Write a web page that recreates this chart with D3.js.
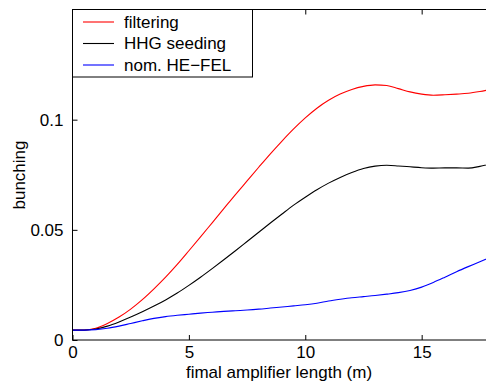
<!DOCTYPE html>
<html>
<head>
<meta charset="utf-8">
<script src="https://cdn.jsdelivr.net/npm/d3@7"></script>
<style>
  body { margin: 0; background: #fff; }
  svg { display: block; }
  text { font-family: "Liberation Sans", Arial, Helvetica, sans-serif; }
</style>
</head>
<body>
<svg id="chart" width="486" height="387"></svg>
<script>
// amplifier length (m)
const lengths = [0, 0.5, 1, 1.5, 2, 2.5, 3, 3.5, 4, 4.5, 5, 5.5, 6, 6.5, 7, 7.5, 8, 8.5, 9,
  9.5, 10, 10.5, 11, 11.5, 12, 12.5, 13, 13.5, 14, 14.5, 15, 15.5, 16, 16.5, 17, 17.5, 18];

const filtering = [0.0045, 0.0045, 0.0053, 0.0075, 0.0104, 0.014, 0.0183, 0.0232, 0.0285, 0.0343,
  0.0405, 0.0468, 0.0532, 0.0596, 0.0660, 0.0722, 0.0784, 0.0845, 0.0903, 0.0958, 0.1008, 0.1052,
  0.1088, 0.1116, 0.1137, 0.1151, 0.1158, 0.1155, 0.1141, 0.1126, 0.1116, 0.1111, 0.1113, 0.1116,
  0.1120, 0.1128, 0.1138];

const hhgSeeding = [0.0045, 0.0045, 0.0050, 0.0063, 0.0082, 0.0104, 0.0128, 0.0154, 0.0182, 0.0213,
  0.0248, 0.0285, 0.0324, 0.0364, 0.0405, 0.0447, 0.0489, 0.0531, 0.0572, 0.0612, 0.0648, 0.0682,
  0.0712, 0.0738, 0.0760, 0.0778, 0.0789, 0.0793, 0.0790, 0.0786, 0.0782, 0.0780, 0.0781, 0.0781,
  0.0780, 0.0788, 0.0800];

const nominal = [0.0045, 0.0045, 0.0047, 0.0053, 0.0063, 0.0075, 0.0087, 0.0098, 0.0106, 0.0112,
  0.0117, 0.0122, 0.0126, 0.0130, 0.0133, 0.0136, 0.0140, 0.0145, 0.0150, 0.0155, 0.0160, 0.0167,
  0.0177, 0.0185, 0.0192, 0.0197, 0.0202, 0.0208, 0.0215, 0.0225, 0.0240, 0.0261, 0.0285, 0.0310,
  0.0333, 0.0355, 0.0378];

const seriesNames = ["filtering", "HHG seeding", "nom. HE\u2212FEL"];
const seriesColors = ["#ff0000", "#000000", "#0000ff"];
const xTicks = [0, 5, 10, 15];
const yTicks = [0, 0.05, 0.1];

const svg = d3.select("#chart");
const mLeft = 72.5, mTop = 9.5, mBottom = 340, mRight = 491.5;

const x = d3.scaleLinear().domain([0, 18]).range([mLeft, mRight]);
const y = d3.scaleLinear().domain([0, 0.15]).range([mBottom, mTop]);

const all = [filtering, hhgSeeding, nominal];

const line = d3.line()
  .x((d, i) => x(lengths[i]))
  .y(d => y(d))
  .curve(d3.curveMonotoneX);

svg.append("clipPath").attr("id", "clip")
  .append("rect").attr("x", mLeft).attr("y", mTop).attr("width", mRight - mLeft).attr("height", mBottom - mTop);

svg.append("g").attr("clip-path", "url(#clip)")
  .selectAll("path")
  .data(all)
  .join("path")
  .attr("fill", "none")
  .attr("stroke", (d, i) => seriesColors[i])
  .attr("stroke-width", 1.1)
  .attr("d", line);

// axes box
const axisColor = "#000";
svg.append("rect")
  .attr("x", mLeft).attr("y", mTop)
  .attr("width", mRight - mLeft).attr("height", mBottom - mTop)
  .attr("fill", "none").attr("stroke", axisColor).attr("stroke-width", 1);

const xAxis = svg.append("g").attr("transform", `translate(0,${mBottom})`)
  .call(d3.axisBottom(x).tickValues(xTicks).tickFormat(d3.format("d")).tickSizeInner(-5).tickSizeOuter(0).tickPadding(6));
const xTop = svg.append("g").attr("transform", `translate(0,${mTop})`)
  .call(d3.axisTop(x).tickValues(xTicks).tickFormat("").tickSizeInner(-5).tickSizeOuter(0));
const yAxis = svg.append("g").attr("transform", `translate(${mLeft},0)`)
  .call(d3.axisLeft(y).tickValues(yTicks).tickFormat(d => d === 0 ? "0" : String(d)).tickSizeInner(-5).tickSizeOuter(0).tickPadding(9));

[xAxis, xTop, yAxis].forEach(g => {
  g.select(".domain").remove();
  g.selectAll("line").attr("stroke", axisColor);
  g.selectAll("text").attr("fill", "#000").style("font-size", "17px")
    .style("font-family", "'Liberation Sans', Arial, sans-serif");
});

svg.append("text")
  .attr("x", 279).attr("y", 378)
  .attr("text-anchor", "middle")
  .style("font-size", "17px")
  .text("fimal amplifier length (m)");

svg.append("text")
  .attr("transform", "translate(25,175) rotate(-90)")
  .attr("text-anchor", "middle")
  .style("font-size", "17px")
  .text("bunching");

// legend
const legend = svg.append("g");
legend.append("rect")
  .attr("x", mLeft).attr("y", mTop)
  .attr("width", 180).attr("height", 67.5)
  .attr("fill", "#fff").attr("stroke", "#000").attr("stroke-width", 1);

const rows = legend.selectAll("g.row")
  .data(seriesNames)
  .join("g")
  .attr("class", "row")
  .attr("transform", (d, i) => `translate(0,${22 + i * 21.5})`);

rows.append("line")
  .attr("x1", 83).attr("x2", 114)
  .attr("stroke", (d, i) => seriesColors[i])
  .attr("stroke-width", 1.1);

rows.append("text")
  .attr("x", 124).attr("dy", "0.35em")
  .style("font-size", "17px")
  .text(d => d);
</script>
</body>
</html>
